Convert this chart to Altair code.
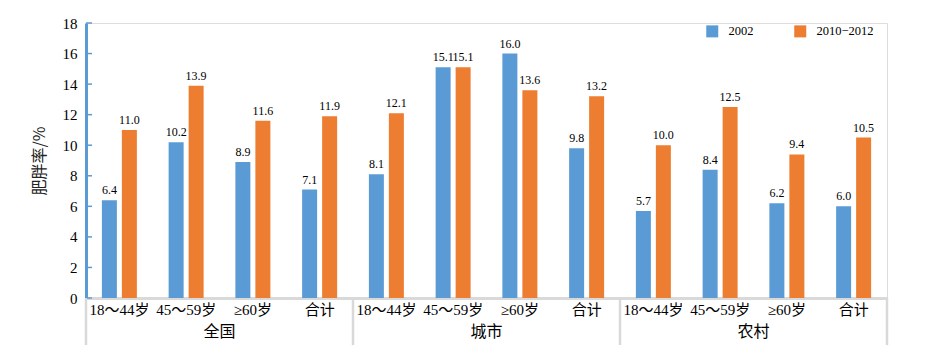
import altair as alt
import pandas as pd

groups = ["全国", "城市", "农村"]
ages = ["18～44岁", "45～59岁", "≥60岁", "合计"]
series = ["2002", "2010−2012"]
v2002 = [6.4, 10.2, 8.9, 7.1, 8.1, 15.1, 16.0, 9.8, 5.7, 8.4, 6.2, 6.0]
v2012 = [11.0, 13.9, 11.6, 11.9, 12.1, 15.1, 13.6, 13.2, 10.0, 12.5, 9.4, 10.5]
y_ticks = [0, 2, 4, 6, 8, 10, 12, 14, 16, 18]

cats = [f"{g}|{a}" for g in groups for a in ages]
rows = []
for i, c in enumerate(cats):
    rows.append({"cat": c, "series": series[0], "value": v2002[i]})
    rows.append({"cat": c, "series": series[1], "value": v2012[i]})
df = pd.DataFrame(rows)

W, H = 801, 275
SERIF = "Liberation Serif, Times New Roman, Noto Sans CJK SC, serif"
CJK = "Noto Sans CJK SC, sans-serif"
GRAY = "#d9d9d9"
BLUE = "#5b9bd5"

xaxis = alt.Axis(labelExpr="split(datum.label, '|')[1]", title=None)
yaxis = alt.Axis(values=y_ticks, title="肥胖率/%")
xscale = alt.Scale(domain=cats, paddingInner=0, paddingOuter=0)
yscale = alt.Scale(domain=[0, 18])
off_scale = alt.Scale(paddingInner=0.25, paddingOuter=0.794)

base = alt.Chart(df)

bars = base.mark_bar().encode(
    x=alt.X("cat:N", scale=xscale, title=None, axis=xaxis),
    xOffset=alt.XOffset("series:N", scale=off_scale, sort=series),
    y=alt.Y("value:Q", scale=yscale, title="肥胖率/%", axis=yaxis),
    color=alt.Color("series:N", sort=series,
                    scale=alt.Scale(domain=series, range=[BLUE, "#ed7d31"]),
                    legend=alt.Legend(title=None, orient="none", legendX=620, legendY=2,
                                      direction="horizontal", symbolType="square",
                                      symbolSize=144, symbolStrokeWidth=0,
                                      labelFont=SERIF, labelFontSize=12.5, labelColor="black",
                                      columnPadding=40, labelOffset=10)),
)

labels = base.mark_text(baseline="bottom", dy=-3, font=SERIF, fontSize=12,
                        color="black").encode(
    x=alt.X("cat:N", scale=xscale, title=None, axis=xaxis),
    xOffset=alt.XOffset("series:N", scale=off_scale, sort=series),
    y=alt.Y("value:Q", scale=yscale, title="肥胖率/%", axis=yaxis),
    text=alt.Text("value:Q", format=".1f"),
)

tick_df = pd.DataFrame({"t": y_ticks})
yticks = alt.Chart(tick_df).mark_rule(color=BLUE, strokeWidth=1.5).encode(
    y=alt.Y("t:Q", scale=yscale, title="肥胖率/%", axis=yaxis),
    x=alt.value(0), x2=alt.value(6),
)

sep_start = pd.DataFrame({"cat": [cats[0], cats[4], cats[8]]})
sep_end = pd.DataFrame({"cat": [cats[11]]})
sep1 = alt.Chart(sep_start).mark_rule(color=GRAY, strokeWidth=2.5).encode(
    x=alt.X("cat:N", scale=xscale, title=None, axis=xaxis, bandPosition=0),
    y=alt.value(H), y2=alt.value(H + 47),
)
sep2 = alt.Chart(sep_end).mark_rule(color=GRAY, strokeWidth=2.5).encode(
    x=alt.X("cat:N", scale=xscale, title=None, axis=xaxis, bandPosition=1),
    y=alt.value(H), y2=alt.value(H + 47),
)

glab_df = pd.DataFrame({"cat": [cats[2], cats[6], cats[10]], "g": groups})
glabels = alt.Chart(glab_df).mark_text(font=CJK, fontSize=16, color="black",
                                       baseline="middle").encode(
    x=alt.X("cat:N", scale=xscale, title=None, axis=xaxis, bandPosition=0),
    y=alt.value(H + 34),
    text="g:N",
)

chart = alt.layer(bars, labels, yticks, sep1, sep2, glabels).properties(
    width=W, height=H,
    autosize=alt.AutoSizeParams(type="none"),
    padding={"left": 86, "top": 23, "right": 48, "bottom": 54},
).configure_view(stroke=None).configure(background="white").configure_axisX(
    domainColor=GRAY, domainWidth=3, ticks=False, labelFont=SERIF, labelFontSize=15,
    labelColor="black", labelPadding=4, labelAngle=0, labelOverlap=False, labelLimit=200,
    grid=False,
).configure_axisY(
    domainColor=BLUE, domainWidth=3, ticks=False, grid=False, labelFont=SERIF,
    labelFontSize=15, labelColor="black", labelOverlap=False, labelPadding=9,
    titleFont=CJK, titleFontSize=16, titleFontWeight="normal", titleColor="#222",
    titlePadding=15,
)

chart.save("out.html", embed_options={"renderer": "svg", "actions": False})
